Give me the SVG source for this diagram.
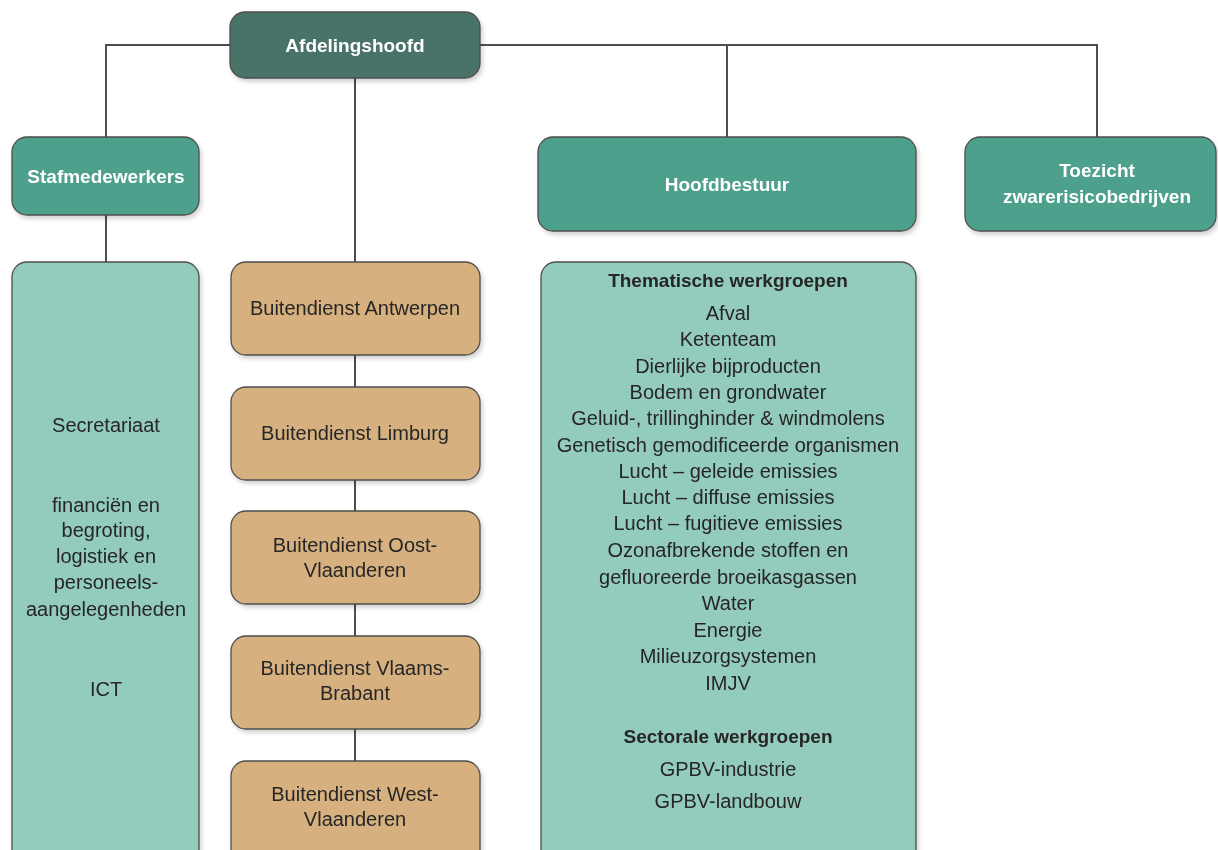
<svg xmlns="http://www.w3.org/2000/svg" width="1218" height="850" viewBox="0 0 1218 850">
<style>
.box{stroke:#4d4d4d;stroke-width:1.3}
.head{fill:#4a7369}
.mid{fill:#4ea08c}
.light{fill:#93cbbc}
.orange{fill:#d6b07f}
.wt{font-family:"Liberation Sans",Arial,sans-serif;font-weight:bold;font-size:19px;fill:#ffffff;text-anchor:middle}
.t{font-family:"Liberation Sans",Arial,sans-serif;font-size:20px;fill:#262626;text-anchor:middle}
.tb{font-family:"Liberation Sans",Arial,sans-serif;font-size:19px;font-weight:bold;fill:#262626;text-anchor:middle}
.c{fill:none;stroke:#4d4d4d;stroke-width:2}
</style>
<defs>
<filter id="sh" x="-10%" y="-10%" width="130%" height="130%">
<feDropShadow dx="2" dy="3" stdDeviation="2" flood-color="#000" flood-opacity="0.18"/>
</filter>
</defs>
<rect width="1218" height="850" fill="#ffffff"/>
<g id="connectors">
<path class="c" d="M230 45 H106 V137"/>
<path class="c" d="M480 45 H1097 V137"/>
<path class="c" d="M727 45 V137"/>
<path class="c" d="M355 78 V262"/>
<path class="c" d="M106 215 V262"/>
<path class="c" d="M355 355 V387 M355 480 V511 M355 604 V636 M355 729 V761"/>
</g>
<g id="afdelingshoofd" filter="url(#sh)">
<rect class="box head" x="230" y="12" width="250" height="66" rx="15"/>
<text class="wt" x="355" y="52">Afdelingshoofd</text>
</g>
<g id="stafmedewerkers" filter="url(#sh)">
<rect class="box mid" x="12" y="137" width="187" height="78" rx="15"/>
<text class="wt" x="106" y="183">Stafmedewerkers</text>
</g>
<g id="hoofdbestuur" filter="url(#sh)">
<rect class="box mid" x="538" y="137" width="378" height="94" rx="15"/>
<text class="wt" x="727" y="191">Hoofdbestuur</text>
</g>
<g id="toezicht" filter="url(#sh)">
<rect class="box mid" x="965" y="137" width="251" height="94" rx="15"/>
<text class="wt" x="1097" y="177">Toezicht</text>
<text class="wt" x="1097" y="203">zwarerisicobedrijven</text>
</g>
<g id="staf-taken" filter="url(#sh)">
<rect class="box light" x="12" y="262" width="187" height="620" rx="15"/>
<text class="t" x="106" y="432">Secretariaat</text>
<text class="t" x="106" y="512">financiën en</text>
<text class="t" x="106" y="537">begroting,</text>
<text class="t" x="106" y="563">logistiek en</text>
<text class="t" x="106" y="589">personeels-</text>
<text class="t" x="106" y="616">aangelegenheden</text>
<text class="t" x="106" y="696">ICT</text>
</g>
<g id="bd-antwerpen" filter="url(#sh)">
<rect class="box orange" x="231" y="262" width="249" height="93" rx="15"/>
<text class="t" x="355" y="315">Buitendienst Antwerpen</text>
</g>
<g id="bd-limburg" filter="url(#sh)">
<rect class="box orange" x="231" y="387" width="249" height="93" rx="15"/>
<text class="t" x="355" y="440">Buitendienst Limburg</text>
</g>
<g id="bd-oost" filter="url(#sh)">
<rect class="box orange" x="231" y="511" width="249" height="93" rx="15"/>
<text class="t" x="355" y="552">Buitendienst Oost-</text>
<text class="t" x="355" y="577">Vlaanderen</text>
</g>
<g id="bd-vlaams" filter="url(#sh)">
<rect class="box orange" x="231" y="636" width="249" height="93" rx="15"/>
<text class="t" x="355" y="675">Buitendienst Vlaams-</text>
<text class="t" x="355" y="700">Brabant</text>
</g>
<g id="bd-west" filter="url(#sh)">
<rect class="box orange" x="231" y="761" width="249" height="120" rx="15"/>
<text class="t" x="355" y="801">Buitendienst West-</text>
<text class="t" x="355" y="826">Vlaanderen</text>
</g>
<g id="werkgroepen" filter="url(#sh)">
<rect class="box light" x="541" y="262" width="375" height="620" rx="15"/>
<text class="tb" x="728" y="287">Thematische werkgroepen</text>
<text class="t" x="728" y="320">Afval</text>
<text class="t" x="728" y="346">Ketenteam</text>
<text class="t" x="728" y="373">Dierlijke bijproducten</text>
<text class="t" x="728" y="399">Bodem en grondwater</text>
<text class="t" x="728" y="425">Geluid-, trillinghinder &amp; windmolens</text>
<text class="t" x="728" y="452">Genetisch gemodificeerde organismen</text>
<text class="t" x="728" y="478">Lucht – geleide emissies</text>
<text class="t" x="728" y="504">Lucht – diffuse emissies</text>
<text class="t" x="728" y="530">Lucht – fugitieve emissies</text>
<text class="t" x="728" y="557">Ozonafbrekende stoffen en</text>
<text class="t" x="728" y="584">gefluoreerde broeikasgassen</text>
<text class="t" x="728" y="610">Water</text>
<text class="t" x="728" y="637">Energie</text>
<text class="t" x="728" y="663">Milieuzorgsystemen</text>
<text class="t" x="728" y="690">IMJV</text>
<text class="tb" x="728" y="743">Sectorale werkgroepen</text>
<text class="t" x="728" y="776">GPBV-industrie</text>
<text class="t" x="728" y="808">GPBV-landbouw</text>
</g>
</svg>
